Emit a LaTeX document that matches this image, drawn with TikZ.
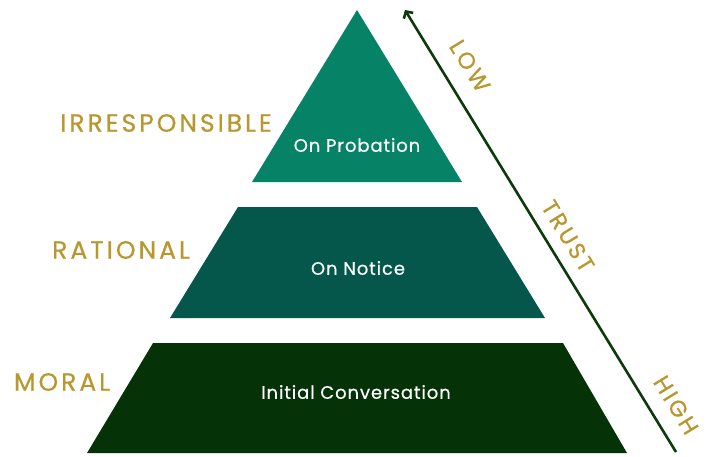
\documentclass[tikz,border=0pt]{standalone}
\usepackage{fontspec}
\setmainfont{Poppins}
\newfontfamily\wideface[LetterSpace=12,FakeBold=0.6]{Poppins}
\newfontfamily\innerface[LetterSpace=5,FakeBold=0.5]{Poppins}
\usetikzlibrary{arrows.meta,positioning}
\definecolor{tiertop}{HTML}{068366}
\definecolor{tiermid}{HTML}{04574A}
\definecolor{tierlow}{HTML}{053307}
\definecolor{gold}{HTML}{B8972E}
\definecolor{arrowgreen}{HTML}{0C3A0A}

\begin{document}
\begin{tikzpicture}[x=1pt,y=-1pt,
  level/.style={text=gold,font=\wideface\fontsize{25}{28}\selectfont},
  inner/.style={text=white,font=\innerface\fontsize{18}{21}\selectfont},
  trust/.style={text=gold,font=\wideface\fontsize{23}{26}\selectfont,rotate=-58.5}]
\useasboundingbox (0,0) rectangle (713,456);
% pyramid
\fill[tiertop] (357,10) -- (462,182) -- (252,182) -- cycle;
\fill[tiermid] (238,207) -- (477,207) -- (545,318) -- (170,318) -- cycle;
\fill[tierlow] (153,343) -- (563,343) -- (627,453) -- (87,453) -- cycle;
\node[inner] (probation) at (357,145) {On Probation};
\node[inner] (notice) at (358,268) {On Notice};
\node[inner] (conversation) at (356,392) {Initial Conversation};
% levels
\node[level] (irresp) at (166,123) {IRRESPONSIBLE};
\node[level] (rational) at (121,250) {RATIONAL};
\node[level] (moral) at (62,382) {MORAL};
% trust arrow
\coordinate (high) at (676,452);
\coordinate (low) at (405,10);
\draw[arrowgreen,line width=2.6pt,-{Straight Barb[length=5pt,width=11pt]}] (high) -- (low);
\node[trust] (lowlbl) at (470,66) {LOW};
\node[trust] (trustlbl) at (568,236) {TRUST};
\node[trust] (highlbl) at (676,405) {HIGH};
\end{tikzpicture}
\end{document}
